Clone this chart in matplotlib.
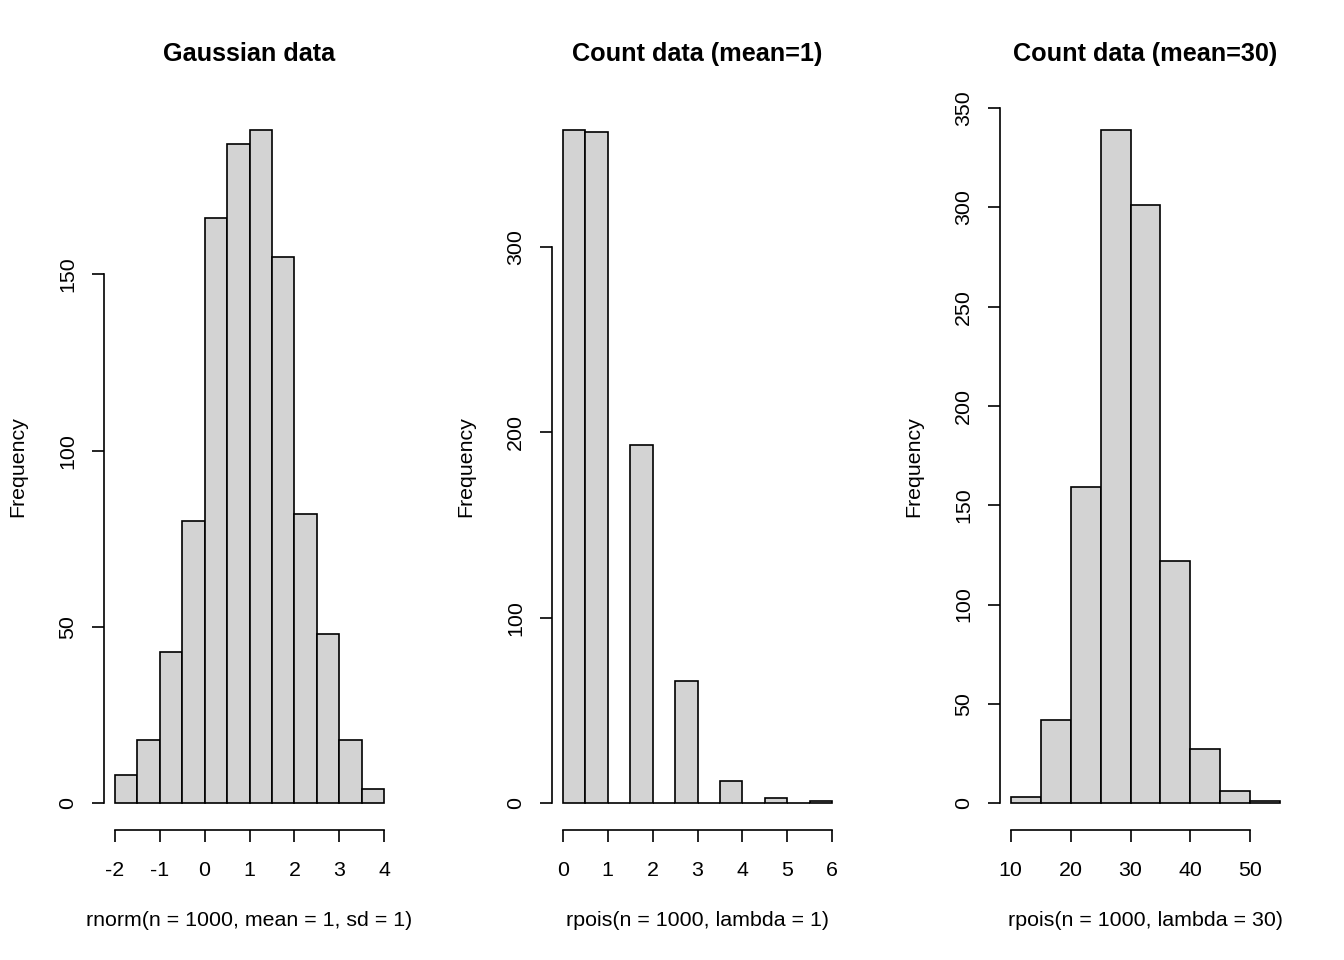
import numpy as np
import matplotlib.pyplot as plt

plt.rcParams['font.family'] = ['Liberation Sans', 'DejaVu Sans']
plt.rcParams['axes.unicode_minus'] = False

# histogram counts (1000 draws each)
gauss_breaks = np.arange(-2, 4.01, 0.5)
gauss_counts = [8, 18, 43, 80, 166, 187, 191, 155, 82, 48, 18, 4]

pois1_breaks = np.arange(0, 6.01, 0.5)
pois1_counts = [363, 362, 0, 193, 0, 66, 0, 12, 0, 3, 0, 1]

pois30_breaks = np.arange(10, 55.01, 5)
pois30_counts = [3, 42, 159, 339, 301, 122, 27, 6, 1]

titles = ["Gaussian data", "Count data (mean=1)", "Count data (mean=30)"]
xlabels = ["rnorm(n = 1000, mean = 1, sd = 1)",
           "rpois(n = 1000, lambda = 1)",
           "rpois(n = 1000, lambda = 30)"]
xticks = [np.arange(-2, 5, 1), np.arange(0, 7, 1), np.arange(10, 51, 10)]
yticks = [np.arange(0, 151, 50), np.arange(0, 301, 100), np.arange(0, 351, 50)]

panels = [(gauss_breaks, gauss_counts),
          (pois1_breaks, pois1_counts),
          (pois30_breaks, pois30_counts)]

fig = plt.figure(figsize=(13.44, 9.6), dpi=100)
lefts = [104, 552, 1000]
W, H = 1344, 960

for i, (breaks, counts) in enumerate(panels):
    ax = fig.add_axes([lefts[i] / W, 130 / H, 291 / W, 727 / H])
    ax.bar(breaks[:-1], counts, width=np.diff(breaks), align='edge',
           color='#d3d3d3', edgecolor='black', linewidth=1.2)

    # R style 4% padding
    x0, x1 = breaks[0], breaks[-1]
    dx = (x1 - x0) * 0.04
    ax.set_xlim(x0 - dx, x1 + dx)
    ymax = max(counts)
    dy = ymax * 0.04
    ax.set_ylim(-dy, ymax + dy)

    ax.set_xticks(xticks[i])
    ax.set_yticks(yticks[i])
    ax.spines['top'].set_visible(False)
    ax.spines['right'].set_visible(False)
    ax.spines['left'].set_bounds(yticks[i][0], yticks[i][-1])
    ax.spines['bottom'].set_bounds(xticks[i][0], xticks[i][-1])
    for s in ('left', 'bottom'):
        ax.spines[s].set_linewidth(1.2)

    ax.tick_params(length=8.5, width=1.2, labelsize=15.4)
    ax.tick_params(axis='x', pad=14)
    ax.tick_params(axis='y', labelrotation=90, pad=11)
    for lab in ax.get_yticklabels():
        lab.set_va('center')

    ax.set_title(titles[i], fontsize=18.2, fontweight='bold', pad=30)
    ax.set_xlabel(xlabels[i], fontsize=15.4, labelpad=22)
    ax.set_ylabel("Frequency", fontsize=15.4, labelpad=22)

fig.savefig("out.png", dpi=100)
